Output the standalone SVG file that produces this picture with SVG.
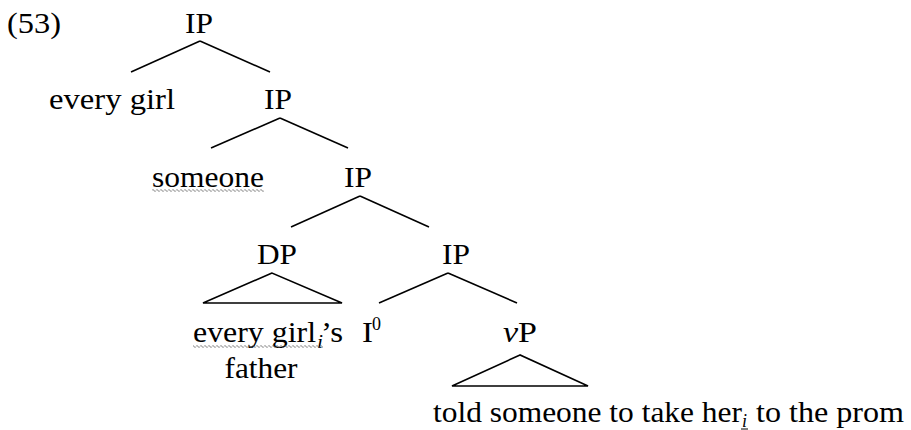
<svg xmlns="http://www.w3.org/2000/svg" width="911" height="430" viewBox="0 0 911 430">
<defs>
<style>
.t{font-family:'Liberation Serif','Times New Roman','DejaVu Serif',serif;font-size:30px;fill:#000}
.c{text-anchor:middle}
.sub{font-family:'Liberation Serif','Times New Roman','DejaVu Serif',serif;font-size:19px;font-style:italic;fill:#000}
.sup{font-family:'Liberation Serif','Times New Roman','DejaVu Serif',serif;font-size:19px;fill:#000}
.ln{stroke:#000;stroke-width:1.6;fill:none}
.wavy{stroke:#666;stroke-width:0.9;fill:none}
</style>
<pattern id="w" width="4" height="3" patternUnits="userSpaceOnUse"><path d="M0 1.5 L1 0.5 L3 2.5 L4 1.5" class="wavy"/></pattern>
</defs>
<rect width="911" height="430" fill="#fff"/>
<g id="label"><text class="t" x="7" y="33" textLength="54" lengthAdjust="spacingAndGlyphs">(53)</text></g>
<g id="connectors">
<line class="ln" x1="200" y1="41" x2="131" y2="72"/>
<line class="ln" x1="200" y1="41" x2="270" y2="72"/>
<line class="ln" x1="280" y1="118" x2="211" y2="148"/>
<line class="ln" x1="280" y1="118" x2="348" y2="148"/>
<line class="ln" x1="360" y1="196" x2="291" y2="227"/>
<line class="ln" x1="360" y1="196" x2="429" y2="227"/>
<line class="ln" x1="448" y1="273" x2="379" y2="303"/>
<line class="ln" x1="448" y1="273" x2="517" y2="303"/>
<polygon class="ln" points="272,273 203,303 342,303"/>
<polygon class="ln" points="520,355 452,386 588,386"/>
</g>
<g id="ip1"><text class="t c" x="199" y="33" textLength="28" lengthAdjust="spacingAndGlyphs">IP</text></g>
<g id="everygirl"><text class="t" x="49" y="109" textLength="126" lengthAdjust="spacingAndGlyphs">every girl</text></g>
<g id="ip2"><text class="t c" x="278" y="109" textLength="28" lengthAdjust="spacingAndGlyphs">IP</text></g>
<g id="someone"><text class="t" x="152" y="187" textLength="112" lengthAdjust="spacingAndGlyphs">someone</text><rect x="152" y="189" width="112" height="3" fill="url(#w)"/></g>
<g id="ip3"><text class="t c" x="358" y="187" textLength="28" lengthAdjust="spacingAndGlyphs">IP</text></g>
<g id="dp"><text class="t c" x="277" y="264" textLength="40" lengthAdjust="spacingAndGlyphs">DP</text></g>
<g id="ip4"><text class="t c" x="456" y="264" textLength="28" lengthAdjust="spacingAndGlyphs">IP</text></g>
<g id="dpcontent">
<text class="t" x="193" y="342" textLength="123" lengthAdjust="spacingAndGlyphs">every girl</text>
<text class="sub" x="317" y="348" textLength="6" lengthAdjust="spacingAndGlyphs">i</text>
<text class="t" x="321" y="342" textLength="22" lengthAdjust="spacingAndGlyphs">’s</text>
<rect x="193" y="345" width="130" height="3" fill="url(#w)"/>
<text class="t c" x="261" y="378" textLength="73" lengthAdjust="spacingAndGlyphs">father</text>
</g>
<g id="i0"><text class="t" x="362" y="342" textLength="11" lengthAdjust="spacingAndGlyphs">I</text><text class="sup" x="372" y="330" textLength="9" lengthAdjust="spacingAndGlyphs">0</text></g>
<g id="vp"><text class="t c" x="520" y="342" textLength="34" lengthAdjust="spacingAndGlyphs"><tspan font-style="italic">v</tspan>P</text></g>
<g id="vpcontent">
<text class="t" x="433" y="422" textLength="309" lengthAdjust="spacingAndGlyphs">told someone to take her</text>
<text class="sub" x="742" y="427" textLength="5" lengthAdjust="spacingAndGlyphs">i</text>
<line x1="741" y1="429" x2="748" y2="429" stroke="#000" stroke-width="1"/>
<text class="t" x="756" y="422" textLength="148" lengthAdjust="spacingAndGlyphs">to the prom</text>
</g>
</svg>
